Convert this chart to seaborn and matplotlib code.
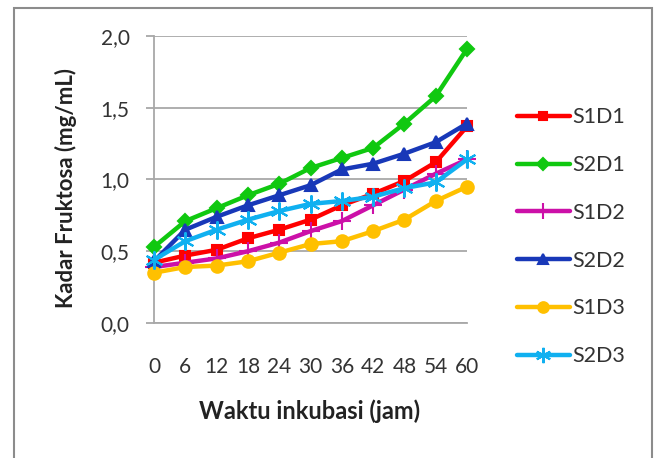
import matplotlib
matplotlib.use("Agg")
import matplotlib.pyplot as plt
from matplotlib.lines import Line2D
from matplotlib.patches import Rectangle
import numpy as np
import pandas as pd
import seaborn as sns

# Incubation time (hours)
waktu = [0, 6, 12, 18, 24, 30, 36, 42, 48, 54, 60]

# Fructose content (mg/mL) per treatment
s1d1 = [0.42, 0.47, 0.51, 0.59, 0.65, 0.72, 0.82, 0.90, 0.99, 1.12, 1.37]
s2d1 = [0.53, 0.71, 0.80, 0.89, 0.97, 1.08, 1.15, 1.22, 1.39, 1.58, 1.91]
s1d2 = [0.39, 0.42, 0.45, 0.50, 0.56, 0.64, 0.71, 0.82, 0.93, 1.04, 1.14]
s2d2 = [0.43, 0.65, 0.74, 0.82, 0.89, 0.96, 1.07, 1.11, 1.18, 1.26, 1.39]
s1d3 = [0.35, 0.39, 0.40, 0.43, 0.49, 0.55, 0.57, 0.64, 0.72, 0.85, 0.95]
s2d3 = [0.44, 0.57, 0.65, 0.72, 0.78, 0.83, 0.85, 0.88, 0.94, 0.98, 1.14]

seri_names = ["S1D1", "S2D1", "S1D2", "S2D2", "S1D3", "S2D3"]
seri_values = [s1d1, s2d1, s1d2, s2d2, s1d3, s2d3]

colors = {
    "S1D1": "#FF0000",
    "S2D1": "#10C810",
    "S1D2": "#CC10A8",
    "S2D2": "#1838B8",
    "S1D3": "#FFC000",
    "S2D3": "#10B0F0",
}
markers = {
    "S1D1": "s",
    "S2D1": "D",
    "S1D2": "+",
    "S2D2": "^",
    "S1D3": "o",
    "S2D3": (6, 2, 0),
}
msizes = {"S1D1": 7, "S2D1": 7, "S1D2": 13, "S2D2": 9, "S1D3": 9, "S2D3": 13}

df = pd.DataFrame(
    [(n, t, v) for n, vals in zip(seri_names, seri_values) for t, v in zip(waktu, vals)],
    columns=["seri", "jam", "kadar"],
)

sns.set_style("white")
plt.rcParams["font.family"] = ["Lato", "DejaVu Sans"]

fig = plt.figure(figsize=(6.55, 4.58), dpi=100)
ax = fig.add_axes([0.2351, 0.2948, 0.4779, 0.6266])

for n in seri_names:
    sub = df[df["seri"] == n]
    sns.lineplot(
        data=sub, x="jam", y="kadar", ax=ax, color=colors[n],
        marker=markers[n], markersize=msizes[n], markeredgewidth=1.5,
        markeredgecolor=colors[n], linewidth=3.2, clip_on=False,
        zorder=3, legend=False,
    )

ax.set_xlim(0, 60)
ax.set_ylim(0, 2.0)
ax.set_xticks(waktu)
ax.set_xticklabels([str(t) for t in waktu], fontsize=15, color="#333333")
yt = [0.0, 0.5, 1.0, 1.5, 2.0]
ax.set_yticks(yt)
ax.set_yticklabels([f"{v:.1f}".replace(".", ",") for v in yt], fontsize=15, color="#333333")
ax.tick_params(axis="y", length=6, width=1.2, color="#A0A0A0", pad=11.5, left=True)
ax.tick_params(axis="x", length=0, pad=24.5)

ax.grid(axis="y", color="#A8A8A8", linewidth=1.3)
ax.set_axisbelow(True)
for s in ["top", "right"]:
    ax.spines[s].set_visible(False)
ax.spines["left"].set_color("#A8A8A8")
ax.spines["left"].set_linewidth(1.3)
ax.spines["bottom"].set_color("#A8A8A8")
ax.spines["bottom"].set_linewidth(1.3)

ax.set_xlabel("Waktu inkubasi (jam)", fontsize=17, fontweight="bold", color="#222222")
ax.set_ylabel("Kadar Fruktosa (mg/mL)", fontsize=16, fontweight="bold", color="#222222")
ax.xaxis.set_label_coords(0.498, -0.265)
ax.yaxis.set_label_coords(-0.246, 0.469)

handles = [
    Line2D([], [], color=colors[n], marker=markers[n], markersize=msizes[n] * 0.85,
           markeredgewidth=1.5, markeredgecolor=colors[n], linewidth=3.2)
    for n in seri_names
]
fig.legend(
    handles, seri_names, loc="upper left", bbox_to_anchor=(0.789, 0.7655),
    frameon=False, fontsize=15.5, handlelength=2.46, handletextpad=0.14,
    labelspacing=1.29, labelcolor="#333333", borderpad=0, borderaxespad=0,
)

fig.patches.append(Rectangle((14 / 655, -0.05), (652 - 14) / 655, 1.05 - 8 / 458,
                             transform=fig.transFigure, fill=False,
                             edgecolor="#8C8C8C", linewidth=1.5))

fig.savefig("out.png", dpi=100, facecolor="white")
